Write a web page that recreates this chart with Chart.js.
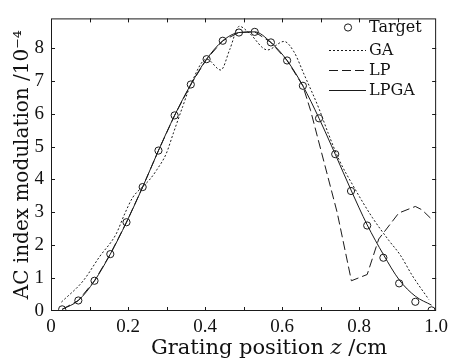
<!DOCTYPE html>
<html>
<head>
<meta charset="utf-8">
<script src="https://cdn.jsdelivr.net/npm/chart.js@4.4.1/dist/chart.umd.min.js"></script>
<style>
  body { margin: 0; background: #fff; }
  canvas { display: block; }
</style>
</head>
<body>
<canvas id="chart" width="453" height="363"></canvas>
<script>
// target apodization profile (circles) and the three reconstructions
const targetX = [0.029, 0.071, 0.113, 0.154, 0.196, 0.238, 0.279, 0.321, 0.363, 0.404, 0.446, 0.488,
                 0.529, 0.571, 0.613, 0.654, 0.696, 0.738, 0.779, 0.821, 0.863, 0.904, 0.946, 0.988];
const targetY = [0.05, 0.32, 0.92, 1.73, 2.70, 3.77, 4.88, 5.95, 6.89, 7.66, 8.22, 8.47,
                 8.49, 8.17, 7.62, 6.85, 5.86, 4.77, 3.65, 2.60, 1.62, 0.84, 0.28, 0.02];

const lpgaY = [0.05, 0.32, 0.92, 1.73, 2.70, 3.77, 4.88, 5.95, 6.89, 7.66, 8.22, 8.47,
               8.49, 8.17, 7.62, 6.85, 5.86, 4.77, 3.68, 2.62, 1.72, 0.95, 0.45, 0.18];

const gaX = [0.027, 0.083, 0.126, 0.169, 0.190, 0.212, 0.235, 0.255, 0.275, 0.299, 0.318, 0.342,
             0.363, 0.404, 0.441, 0.464, 0.489, 0.515, 0.562, 0.605, 0.631, 0.657, 0.696, 0.720,
             0.748, 0.785, 0.834, 0.877, 0.907, 0.938, 0.981];
const gaY = [0.27, 0.91, 1.65, 2.34, 2.92, 3.45, 3.75, 3.98, 4.30, 4.78, 5.42, 6.22,
             6.89, 7.66, 7.33, 7.95, 8.66, 8.45, 7.94, 8.20, 7.88, 7.20, 6.15, 5.40,
             4.60, 3.80, 2.85, 2.15, 1.70, 1.08, 0.35];

const lpX = [0.029, 0.071, 0.113, 0.154, 0.196, 0.238, 0.279, 0.321, 0.363, 0.404, 0.446, 0.488,
             0.529, 0.571, 0.613, 0.654, 0.674, 0.743, 0.780, 0.821, 0.851, 0.903, 0.946, 0.963, 0.985];
const lpY = [0.05, 0.32, 0.92, 1.73, 2.70, 3.77, 4.88, 5.95, 6.89, 7.66, 8.22, 8.47,
             8.49, 8.17, 7.62, 6.85, 6.10, 3.00, 0.92, 1.11, 2.19, 2.98, 3.18, 3.08, 2.83];

const xTicks = [0, 0.2, 0.4, 0.6, 0.8, 1.0];
const yTicks = [0, 1, 2, 3, 4, 5, 6, 7, 8];

const pts = (xs, ys) => xs.map((x, i) => ({ x: x, y: ys[i] }));
const ink = '#1a1a1a';

// box round the plot with short inward ticks on all four sides
const frameTicks = {
  id: 'frameTicks',
  afterDraw(chart) {
    const { ctx, chartArea: a, scales } = chart;
    const sx = scales.x, sy = scales.y;
    ctx.save();
    ctx.strokeStyle = ink;
    ctx.lineWidth = 1;
    ctx.strokeRect(a.left + 0.5, a.top + 0.5, a.right - a.left - 1, a.bottom - a.top - 1);
    ctx.beginPath();
    for (let i = 1; i < 10; i++) {
      const px = Math.round(sx.getPixelForValue(i / 10)) + 0.5;
      ctx.moveTo(px, a.bottom); ctx.lineTo(px, a.bottom - 4);
      ctx.moveTo(px, a.top); ctx.lineTo(px, a.top + 4);
    }
    yTicks.forEach(v => {
      if (v === 0) return;
      const py = Math.round(sy.getPixelForValue(v)) + 0.5;
      ctx.moveTo(a.left, py); ctx.lineTo(a.left + 4, py);
      ctx.moveTo(a.right, py); ctx.lineTo(a.right - 4, py);
    });
    ctx.stroke();
    ctx.restore();
  }
};

// legend inside the top right corner
const boxLegend = {
  id: 'boxLegend',
  afterDraw(chart) {
    const ctx = chart.ctx;
    const rows = [27, 50, 70, 90];
    ctx.save();
    ctx.font = '16px "DejaVu Serif"';
    ctx.textBaseline = 'middle';
    ctx.fillStyle = '#111';
    chart.data.datasets.forEach((ds, i) => {
      const y = rows[i] + 0.5;
      ctx.strokeStyle = ink;
      ctx.lineWidth = 1;
      if (ds.showLine === false) {
        ctx.beginPath();
        ctx.arc(348, y, 3.6, 0, Math.PI * 2);
        ctx.stroke();
      } else {
        ctx.setLineDash(ds.borderDash || []);
        ctx.beginPath();
        ctx.moveTo(329, y); ctx.lineTo(366, y);
        ctx.stroke();
        ctx.setLineDash([]);
      }
      ctx.fillText(ds.label, 369, y);
    });
    ctx.restore();
  }
};

// x axis title with italic z
const xTitle = {
  id: 'xTitle',
  afterDraw(chart) {
    const ctx = chart.ctx;
    const parts = [['Grating position ', 'normal'], ['z', 'italic'], [' /cm', 'normal']];
    ctx.save();
    ctx.fillStyle = '#111';
    ctx.textBaseline = 'middle';
    let w = 0;
    parts.forEach(p => { ctx.font = p[1] + ' 21px "DejaVu Serif"'; w += ctx.measureText(p[0]).width; });
    let cx = 269 - w / 2;
    parts.forEach(p => {
      ctx.font = p[1] + ' 21px "DejaVu Serif"';
      ctx.fillText(p[0], cx, 349);
      cx += ctx.measureText(p[0]).width;
    });
    ctx.restore();
  }
};

new Chart(document.getElementById('chart'), {
  type: 'scatter',
  data: {
    datasets: [{
      label: 'Target',
      data: pts(targetX, targetY),
      showLine: false,
      pointStyle: 'circle',
      pointRadius: 3.6,
      borderColor: ink,
      backgroundColor: 'rgba(0,0,0,0)',
      borderWidth: 1
    }, {
      label: 'GA',
      data: pts(gaX, gaY),
      showLine: true,
      borderColor: ink,
      borderWidth: 1,
      borderDash: [2, 2],
      pointRadius: 0,
      cubicInterpolationMode: 'monotone'
    }, {
      label: 'LP',
      data: pts(lpX, lpY),
      showLine: true,
      borderColor: ink,
      borderWidth: 1,
      borderDash: [9, 4],
      pointRadius: 0,
      tension: 0
    }, {
      label: 'LPGA',
      data: pts(targetX, lpgaY),
      showLine: true,
      borderColor: ink,
      borderWidth: 1,
      pointRadius: 0,
      cubicInterpolationMode: 'monotone'
    }]
  },
  options: {
    responsive: false,
    animation: false,
    devicePixelRatio: 1,
    layout: { padding: { left: 0, top: 9, right: 13, bottom: 0 } },
    plugins: {
      legend: { display: false },
      tooltip: { enabled: false }
    },
    scales: {
      x: {
        type: 'linear',
        min: 0,
        max: 1,
        grid: { display: false, drawTicks: false },
        border: { display: false },
        afterBuildTicks: s => { s.ticks = xTicks.map(v => ({ value: v })); },
        afterFit: s => { s.height = 52; },
        ticks: {
          padding: 5,
          maxRotation: 0,
          color: '#111',
          font: { family: 'Liberation Serif', size: 19 },
          callback: v => (v === 0 ? '0' : v.toFixed(1))
        }
      },
      y: {
        min: 0,
        max: 8.9,
        grid: { display: false, drawTicks: false },
        border: { display: false },
        afterBuildTicks: s => { s.ticks = yTicks.map(v => ({ value: v })); },
        afterFit: s => { s.width = 51; },
        title: {
          display: true,
          text: 'AC index modulation /10⁻⁴',
          color: '#111',
          font: { family: 'DejaVu Serif', size: 20 },
          padding: { top: 11, bottom: 0 }
        },
        ticks: {
          padding: 7,
          color: '#111',
          font: { family: 'Liberation Serif', size: 19 }
        }
      }
    }
  },
  plugins: [frameTicks, boxLegend, xTitle]
});
</script>
</body>
</html>
